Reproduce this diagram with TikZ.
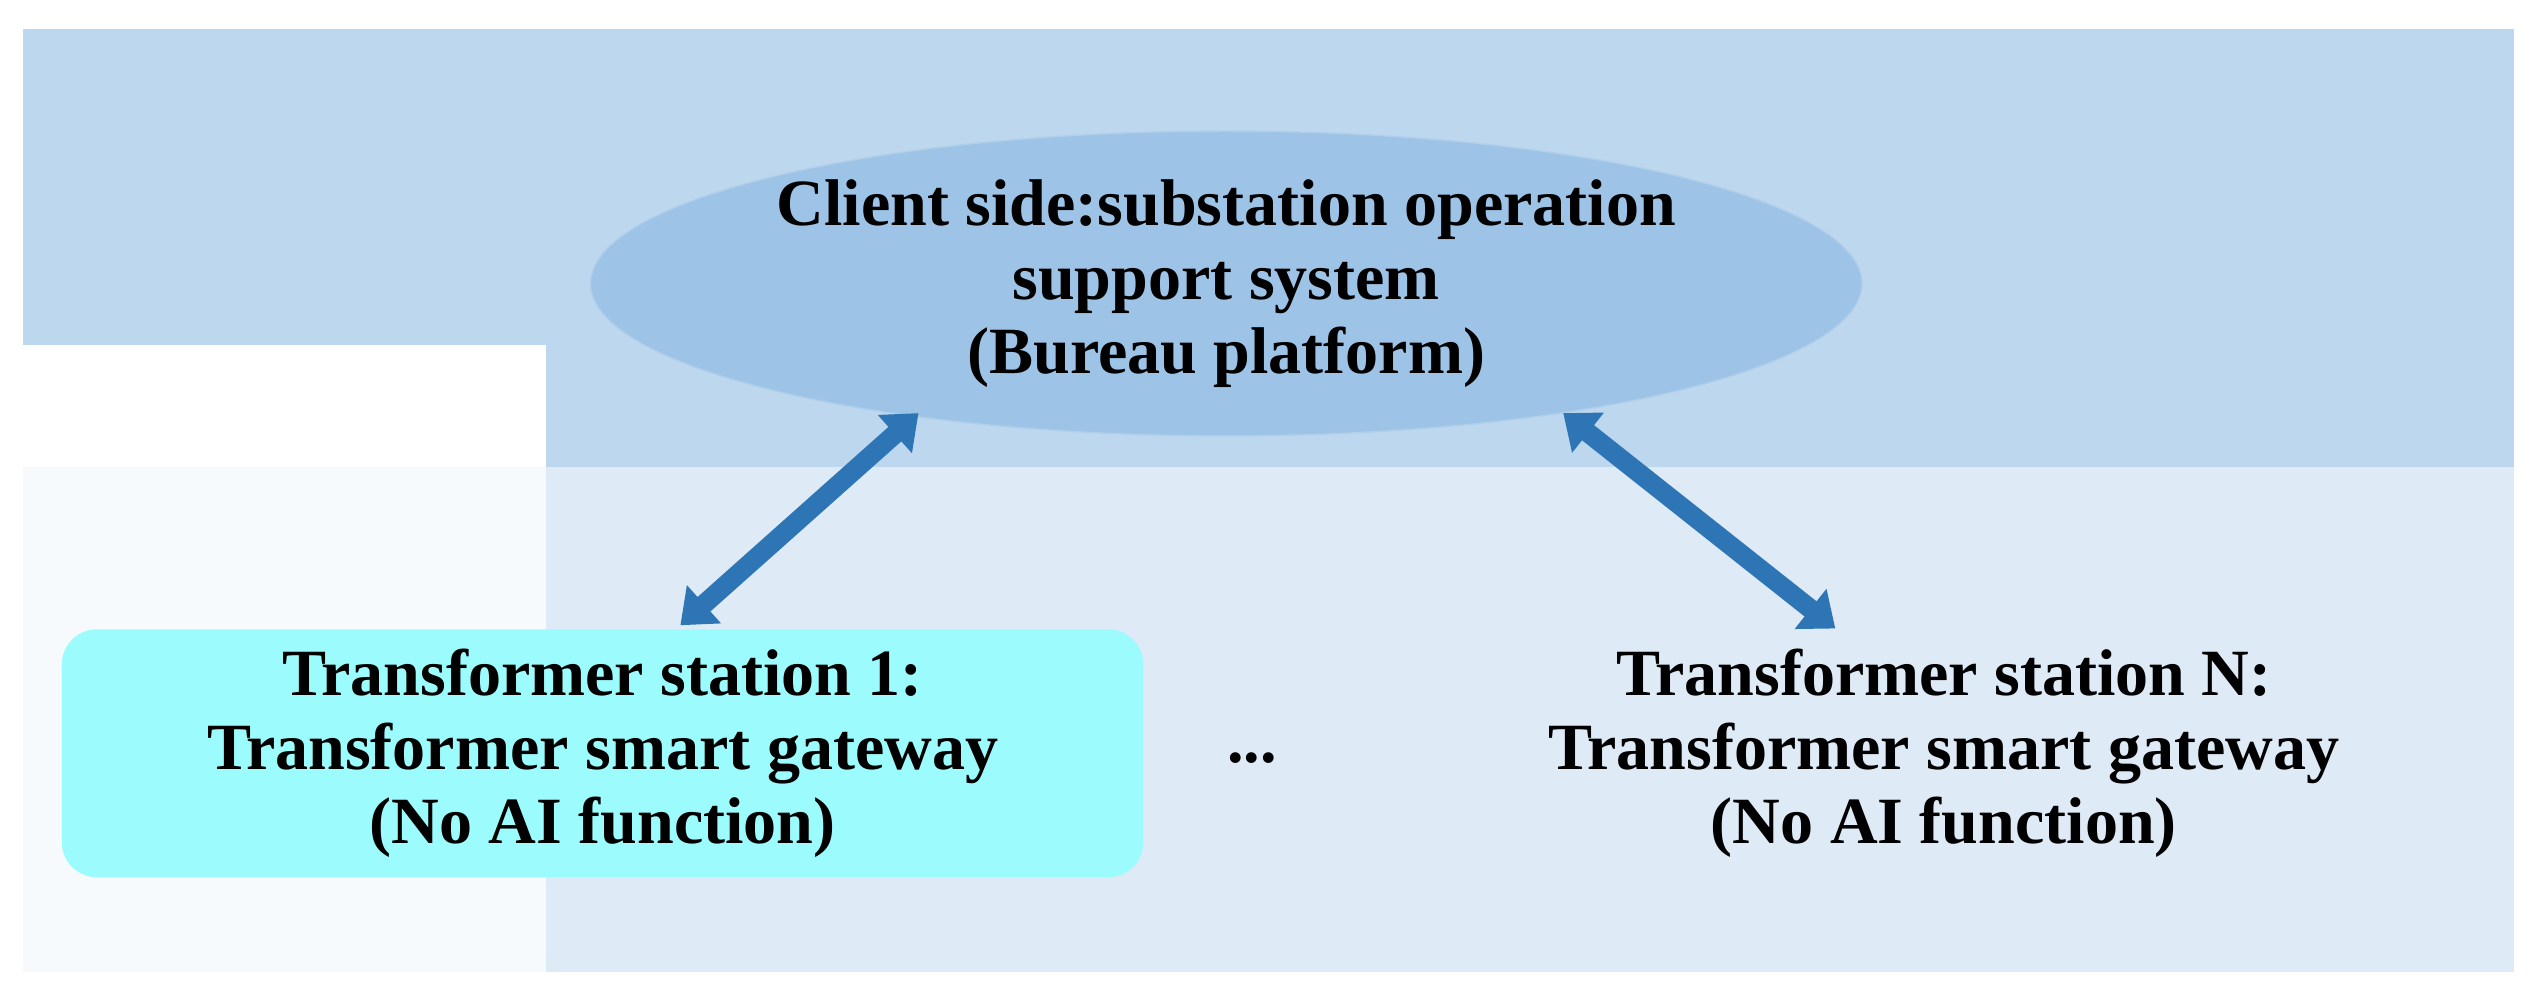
\documentclass[tikz,border=0pt]{standalone}
\usepackage{fontspec}
\setmainfont{Liberation Serif}
\usetikzlibrary{arrows.meta,shapes.geometric}
\definecolor{bandblue}{HTML}{BDD7EE}
\definecolor{paleblue}{HTML}{DEEAF6}
\definecolor{paleleft}{HTML}{F7FAFD}
\definecolor{ellblue}{HTML}{9DC3E6}
\definecolor{cyanbox}{HTML}{9CFCFD}
\definecolor{arrowblue}{HTML}{2E75B6}
\tikzset{
    lbl/.style={font=\fontsize{18.8}{21}\selectfont\bfseries, align=center},
    link/.style={draw=arrowblue, line width=5.5pt, {Triangle[length=9pt,width=14pt]}-{Triangle[length=9pt,width=14pt]}}
}
\begin{document}
\begin{tikzpicture}[x=0.0162cm, y=-0.0162cm]
    \useasboundingbox (0,0) rectangle (1568,620);
    % Background bands
    \fill[bandblue] (14,18) rectangle (1552,213);
    \fill[bandblue] (337,213) rectangle (1552,288);
    \fill[paleleft] (14,288) rectangle (337,600);
    \fill[paleblue] (337,288) rectangle (1552,600);
    
    % Client side
    \node (client) [ellipse, fill=ellblue, draw=ellblue!80!white, minimum width=12.0cm, minimum height=3.05cm, inner sep=0pt, lbl] at (757,175)
      {Client side:substation operation\\support system\\(Bureau platform)};
    
    % Stations
    \node (st1) [rectangle, rounded corners=10pt, fill=cyanbox, minimum width=10.82cm, minimum height=2.48cm, lbl] at (372,465)
      {Transformer station 1:\\Transformer smart gateway\\(No AI function)};
    \node (dots) [lbl] at (773,468) {...};
    \node (stN) [lbl] at (1200,465)
      {Transformer station N:\\Transformer smart gateway\\(No AI function)};
    
    % Links
    \coordinate (a1) at (567,255);
    \coordinate (b1) at (420,386);
    \coordinate (a2) at (965,255);
    \coordinate (b2) at (1133,388);
    \draw[link] (a1) -- (b1);
    \draw[link] (a2) -- (b2);
\end{tikzpicture}
\end{document}
